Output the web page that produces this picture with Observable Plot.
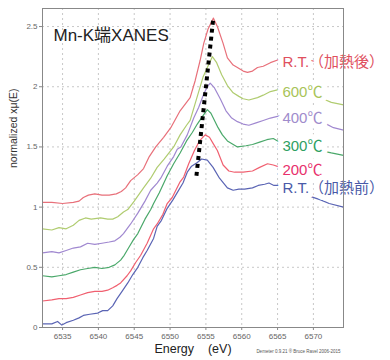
<!DOCTYPE html>
<html>
<head>
<meta charset="utf-8">
<script src="https://cdn.jsdelivr.net/npm/d3@7"></script>
<script src="https://cdn.jsdelivr.net/npm/@observablehq/plot@0.6"></script>
<style>
  html, body { margin: 0; padding: 0; background: #fff; }
  svg { display: block; }
</style>
</head>
<body>
<div id="chart"></div>
<script>
// ---- data ----
const seriesNames = ["R.T.（加熱後）", "600℃", "400℃", "300℃", "200℃", "R.T.（加熱前）"];
const lineColors  = ["#e8707a", "#b0cc70", "#a088d0", "#4aa86a", "#f06070", "#5a64b4"];
const labelColors = ["#e0505e", "#a8c458", "#a08ccc", "#2ea062", "#e8306c", "#4a5aa8"];

const eRtAfter = [6532.2,6533.5,6535.0,6536.5,6537.3,6537.9,6538.6,6539.5,6540.5,6541.5,6542.5,6543.2,6543.8,6544.5,6545.5,6546.3,6547.1,6548.0,6549.1,6550.1,6551.4,6552.3,6552.8,6553.5,6554.2,6554.7,6555.3,6556.05,6556.6,6557.4,6558.0,6558.8,6559.4,6560.2,6560.8,6561.5,6562.2,6563.0,6564.0,6565.4,6568.0,6571.0,6574.2];
const muRtAfter = [1.04,1.04,1.03,1.04,1.05,1.08,1.10,1.11,1.10,1.10,1.11,1.13,1.16,1.22,1.27,1.32,1.42,1.50,1.58,1.66,1.80,1.87,1.91,2.05,2.22,2.36,2.48,2.57,2.50,2.36,2.24,2.18,2.16,2.13,2.12,2.13,2.16,2.17,2.20,2.23,2.24,2.20,2.17];

const e600 = [6532.2,6533.5,6534.5,6535.5,6536.5,6537.3,6538.2,6539.0,6540.3,6541.3,6542.0,6542.7,6543.5,6544.1,6545.0,6546.3,6547.3,6548.2,6549.2,6550.5,6551.4,6552.3,6552.8,6553.8,6554.6,6555.2,6555.9,6556.5,6557.2,6558.0,6558.8,6559.6,6560.2,6561.0,6562.2,6563.0,6564.0,6565.4,6568.0,6571.3,6572.5,6574.2];
const mu600 = [0.82,0.81,0.83,0.82,0.85,0.89,0.91,0.90,0.91,0.90,0.90,0.92,0.96,0.98,1.05,1.16,1.24,1.33,1.40,1.50,1.60,1.68,1.72,1.92,2.08,2.16,2.25,2.20,2.10,2.01,1.95,1.92,1.90,1.89,1.91,1.93,1.96,1.98,1.96,1.90,1.87,1.85];

const e400 = [6532.2,6533.5,6534.5,6535.5,6536.5,6537.5,6538.5,6539.5,6540.5,6541.5,6542.3,6543.0,6543.5,6544.5,6545.5,6546.5,6547.3,6548.2,6548.7,6549.6,6550.5,6551.0,6551.5,6552.4,6553.3,6554.0,6554.7,6555.2,6555.6,6556.2,6557.0,6557.8,6558.6,6559.4,6560.2,6561.0,6562.0,6563.0,6564.0,6565.4,6568.0,6571.5,6572.8,6574.2];
const mu400 = [0.62,0.63,0.62,0.64,0.66,0.67,0.70,0.69,0.70,0.71,0.72,0.75,0.78,0.86,0.95,1.05,1.14,1.20,1.24,1.34,1.42,1.48,1.50,1.60,1.74,1.83,1.94,2.00,2.03,1.99,1.90,1.80,1.74,1.71,1.69,1.68,1.70,1.72,1.74,1.76,1.75,1.70,1.66,1.64];

const e300 = [6532.2,6533.5,6534.5,6535.5,6536.5,6537.5,6538.5,6539.5,6540.5,6541.5,6542.3,6543.1,6543.6,6544.2,6544.9,6545.5,6546.5,6547.3,6547.7,6548.5,6549.6,6550.5,6551.4,6552.3,6553.1,6553.8,6554.6,6555.2,6555.7,6556.7,6557.3,6558.0,6559.4,6560.6,6561.5,6562.5,6563.5,6564.4,6565.0,6565.4,6568.0,6571.0,6572.5,6574.2];
const mu300 = [0.43,0.42,0.43,0.44,0.46,0.48,0.49,0.50,0.49,0.50,0.52,0.56,0.60,0.66,0.73,0.78,0.90,0.98,1.03,1.12,1.26,1.36,1.45,1.55,1.62,1.69,1.76,1.81,1.78,1.66,1.60,1.55,1.50,1.51,1.52,1.54,1.56,1.57,1.55,1.53,1.51,1.47,1.45,1.43];

const e200 = [6532.2,6533.5,6534.5,6535.5,6536.5,6537.5,6538.5,6539.5,6540.5,6541.3,6542.0,6542.6,6543.1,6544.0,6544.5,6545.2,6545.9,6546.8,6547.7,6548.2,6549.0,6549.6,6550.3,6551.4,6551.9,6552.6,6553.4,6554.1,6554.9,6555.5,6556.0,6556.6,6557.4,6558.2,6559.0,6560.2,6561.5,6562.5,6563.6,6564.4,6565.4,6568.0,6571.0,6572.5,6574.2];
const mu200 = [0.22,0.23,0.24,0.24,0.25,0.27,0.29,0.30,0.30,0.31,0.33,0.35,0.37,0.43,0.47,0.54,0.60,0.70,0.82,0.86,0.94,1.03,1.08,1.21,1.25,1.36,1.47,1.55,1.60,1.58,1.53,1.47,1.35,1.30,1.29,1.29,1.30,1.33,1.36,1.35,1.33,1.30,1.26,1.24,1.23];

const eRtBefore = [6532.2,6533.5,6534.3,6534.9,6535.5,6536.5,6537.3,6537.9,6538.8,6539.9,6540.6,6541.3,6542.0,6542.6,6543.3,6544.1,6544.8,6545.5,6546.2,6546.8,6547.7,6548.2,6548.8,6549.6,6550.4,6551.0,6551.8,6552.4,6553.0,6553.8,6554.4,6555.2,6556.0,6556.9,6558.0,6558.8,6559.6,6560.4,6561.5,6562.3,6563.2,6563.8,6564.5,6565.4,6568.0,6571.0,6572.2,6574.2];
const muRtBefore = [0.03,0.03,0.05,0.02,0.04,0.06,0.08,0.10,0.11,0.12,0.14,0.14,0.18,0.24,0.30,0.37,0.44,0.50,0.58,0.64,0.74,0.84,0.89,0.99,1.06,1.12,1.20,1.29,1.34,1.37,1.40,1.39,1.33,1.24,1.16,1.14,1.15,1.15,1.16,1.18,1.19,1.20,1.18,1.18,1.12,1.06,1.03,1.00];

const energyArrays = [eRtAfter, e600, e400, e300, e200, eRtBefore];
const muArrays = [muRtAfter, mu600, mu400, mu300, mu200, muRtBefore];

// dotted guide through the white-line peaks
const guideEnergy = [6553.68, 6556.05];
const guideMu = [1.26, 2.58];

// axis ticks
const xTicks = [6535, 6540, 6545, 6550, 6555, 6560, 6565, 6570];
const yTicks = [0, 0.5, 1, 1.5, 2, 2.5];

// label anchor energy (labels sit where each curve meets them)
const labelEnergy = 6565.4;

const titleText = "Mn-K端XANES";
const xLabel = "Energy    (eV)";
const yLabel = "normalized xμ(E)";
const footerText = "Demeter 0.9.21 ® Bruce Ravel 2006-2015";

// ---- build table ----
const rows = [];
seriesNames.forEach((s, i) => {
  energyArrays[i].forEach((e, j) => rows.push({series: s, energy: e, mu: muArrays[i][j]}));
});
const labels = seriesNames.map((s, i) => {
  const j = energyArrays[i].indexOf(labelEnergy);
  return {series: s, energy: labelEnergy, mu: muArrays[i][j], color: labelColors[i]};
});
const guide = guideEnergy.map((e, i) => ({energy: e, mu: guideMu[i]}));

const font = "'Liberation Sans', 'Noto Sans CJK JP', sans-serif";

const chart = Plot.plot({
  width: 390,
  height: 360,
  marginLeft: 42,
  marginRight: 47,
  marginTop: 8,
  marginBottom: 33,
  style: {fontFamily: font, background: "#fff"},
  x: {domain: [6532.2, 6574.2]},
  y: {domain: [0, 2.65]},
  color: {domain: seriesNames, range: lineColors},
  marks: [
    Plot.gridX(xTicks, {stroke: "#c8c8c8", strokeOpacity: 1, strokeDasharray: "2,3"}),
    Plot.gridY(yTicks, {stroke: "#c8c8c8", strokeOpacity: 1, strokeDasharray: "2,3"}),
    Plot.axisX(xTicks, {tickSize: 3, tickPadding: 3, fontSize: 8, fill: "#666", stroke: "#888", tickFormat: d => String(d), label: null}),
    Plot.axisY(yTicks, {tickSize: 3, tickPadding: 2, fontSize: 8, fill: "#666", stroke: "#888", tickFormat: d => String(d), label: null}),
    Plot.line(rows, {x: "energy", y: "mu", z: "series", stroke: "series", strokeWidth: 1.2}),
    Plot.line(guide, {x: "energy", y: "mu", stroke: "#000", strokeWidth: 4, strokeDasharray: "4,4", strokeLinecap: "butt"}),
    Plot.text(labels, {x: "energy", y: "mu", text: "series", fill: "color", textAnchor: "start", dx: 2, dy: 3,
      fontSize: 15, stroke: "white", strokeWidth: 11, paintOrder: "stroke"}),
    Plot.frame({stroke: "#888"}),
    Plot.text([titleText], {frameAnchor: "top-left", textAnchor: "start", dx: 11, dy: 20, fontSize: 17, fill: "#222"}),
    Plot.text([yLabel], {frameAnchor: "left", rotate: -90, dx: -29, fontSize: 10.5, fill: "#333"}),
    Plot.text([xLabel], {frameAnchor: "bottom", dy: 25, fontSize: 12.5, fill: "#222"}),
    Plot.text([footerText], {frameAnchor: "bottom-right", textAnchor: "end", dx: -3, dy: 25, fontSize: 4.5, fill: "#555"})
  ]
});
document.getElementById("chart").appendChild(chart);
</script>
</body>
</html>
